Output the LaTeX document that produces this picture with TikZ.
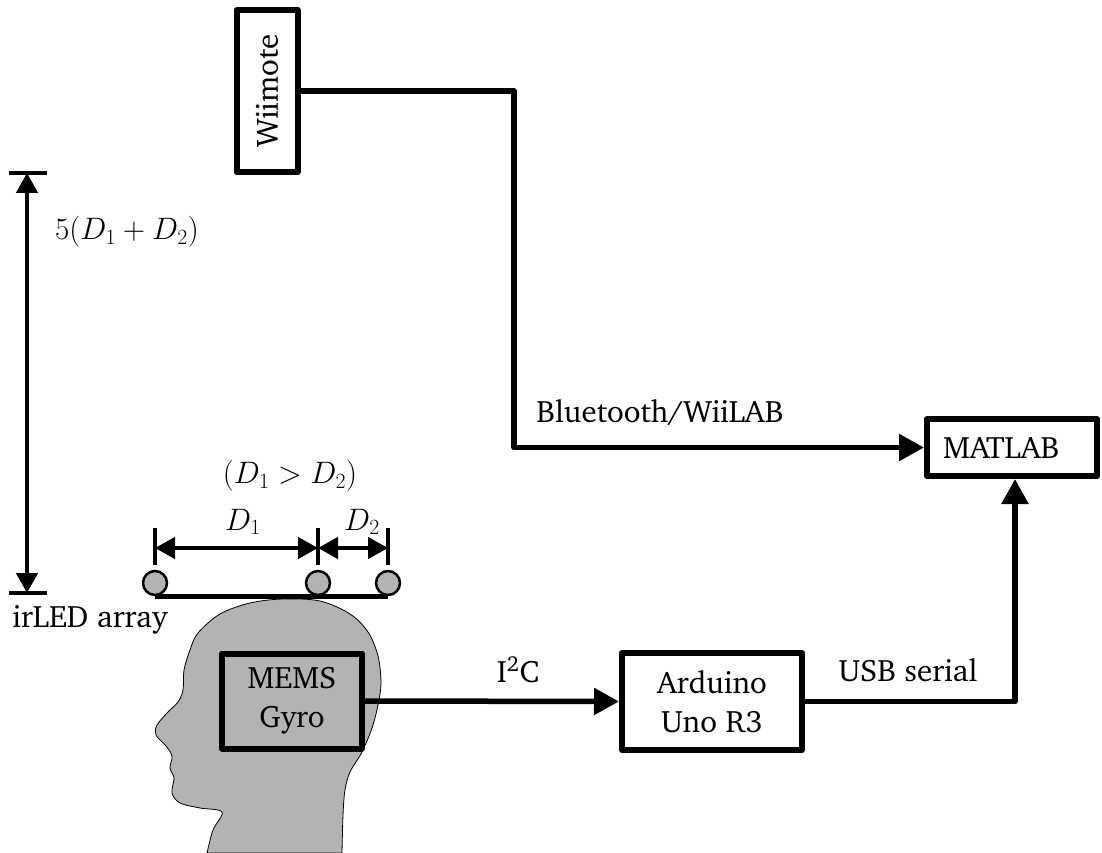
\RequirePackage{fix-cm}
\documentclass[tikz,border=0pt]{standalone}
\usepackage[T1]{fontenc}
\usepackage{charter}
\usetikzlibrary{arrows.meta}
\definecolor{skin}{RGB}{179,179,179}
\begin{document}
\begin{tikzpicture}[x=1pt,y=-1pt,
  every node/.style={font=\fontsize{31}{39}\selectfont},
  blockbox/.style={draw, line width=6pt, line join=round, align=center, inner sep=0pt},
  conn/.style={line width=5.5pt, line join=round},
  bigtip/.style={-{Triangle[length=25pt,width=26pt]}},
  dimline/.style={line width=4.5pt},
  dimtip/.style={{Triangle[length=20pt,width=21pt]}-{Triangle[length=20pt,width=21pt]}},
  ledstyle/.style={circle, draw, line width=2.5pt, fill=skin, minimum size=24pt, inner sep=0pt}]
\useasboundingbox (0,0) rectangle (1102,853);

% head silhouette
\draw[fill=skin, line width=0.8pt]
  plot[smooth, tension=0.55] coordinates {
    (207,853) (213,830) (222,812) (200,808) (180,803) (172,793) (174,778)
    (170,768) (172,756) (166,746) (156,735) (157,725) (168,712) (178,702)
    (183,690) (184,670) (190,650) (198,633) (220,614) (250,603) (283,599)
    (320,601) (350,614) (368,632) (378,656) (381,683) (378,705) (372,728)
    (362,752) (350,772) (345,790) (343,815) (342,853)} -- cycle;

% blocks
\node[blockbox, minimum width=61pt, minimum height=162pt] (wii) at (267,91) {\rotatebox{90}{Wiimote}};
\node[blockbox, text width=138pt, align=left, inner xsep=16pt, minimum height=57pt] (matlab) at (1012,447.5) {MATLAB};
\node[blockbox, minimum width=180pt, minimum height=97pt] (arduino) at (712,701.5) {Arduino\\Uno R3};
\node[blockbox, fill=skin, minimum width=140pt, minimum height=95pt] (mems) at (292,701) {MEMS\\Gyro};

% links
\draw[conn, bigtip] (wii.east) -- ++(213.5,0) |- (matlab.west);
\draw[conn, bigtip] (mems.east) -- (arduino.west);
\draw[conn, bigtip] (arduino.east) -| ([xshift=3pt]matlab.south);
\node (bt) at (660,412) {Bluetooth/WiiLAB};
\node (i2c) at (518,670) {I\textsuperscript{2}C};
\node (usb) at (908,670) {USB serial};

% irLED array
\node[ledstyle] (led1) at (155,583) {};
\node[ledstyle] (led2) at (318,583) {};
\node[ledstyle] (led3) at (388,583) {};
\draw[line width=5pt] (led1.south) -- (led3.south);
\node (irled) at (90,620) {irLED array};

% spacing dimensions
\coordinate (t1) at (155,528); \coordinate (b1) at (155,565);
\coordinate (t2) at (318,528); \coordinate (b2) at (318,565);
\coordinate (t3) at (388,528); \coordinate (b3) at (388,565);
\draw[dimline] (t1) -- (b1) (t2) -- (b2) (t3) -- (b3);
\coordinate (a1) at (155,548); \coordinate (a2) at (318,548); \coordinate (a3) at (388,548);
\draw[dimline, dimtip] (a1) -- (a2);
\draw[dimline, dimtip] (a2) -- (a3);
\node (d1) at (243,522) {$D_1$};
\node (d2) at (362,522) {$D_2$};
\node (cmp) at (290,476) {$(D_1>D_2)$};

% height dimension
\coordinate (htop) at (27,173); \coordinate (hbot) at (27,593);
\draw[dimline] (9,173) -- (47,173) (9,593) -- (47,593);
\draw[dimline, dimtip] (htop) -- (hbot);
\node (hgt) at (127,232) {$5(D_1+D_2)$};
\end{tikzpicture}
\end{document}
